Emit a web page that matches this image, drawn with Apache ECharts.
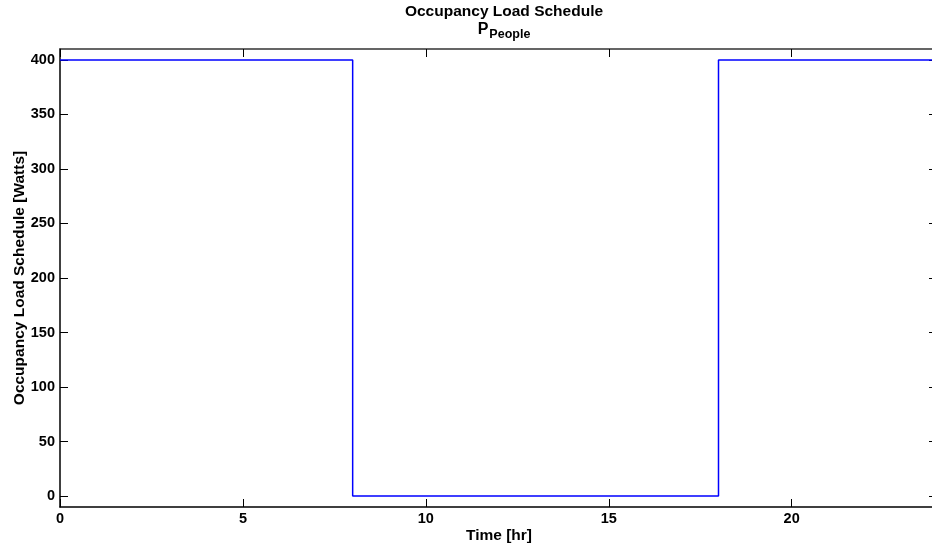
<!DOCTYPE html>
<html><head><meta charset="utf-8">
<script src="https://cdn.jsdelivr.net/npm/echarts@6/dist/echarts.min.js"></script>
<style>html,body{margin:0;padding:0;background:#fff}#c{width:932px;height:550px}</style>
</head><body><div id="c"></div>
<script>
const timeHr = [0, 8, 8, 8, 18, 18, 18, 24];
const loadWatts = [400, 400, 200, 0, 0, 200, 400, 400];
const xTicks = [0, 5, 10, 15, 20];
const yTicks = [0, 50, 100, 150, 200, 250, 300, 350, 400];

const font = 'Liberation Sans, Arial, sans-serif';
const chart = echarts.init(document.getElementById('c'), null, {renderer: 'canvas'});
const tickStyle = {show: true, inside: true, length: 8, lineStyle: {color: '#000', width: 1}};
chart.setOption({
  animation: false,
  title: {
    text: 'Occupancy Load Schedule\n{p|P}{s|People}',
    left: 499, textAlign: 'center', top: -2,
    textStyle: {fontFamily: font, fontWeight: 'bold', fontSize: 15.5, color: '#000', lineHeight: 18,
      rich: {p: {fontFamily: font, fontWeight: 'bold', fontSize: 16, color: '#000', lineHeight: 18},
             s: {fontFamily: font, fontWeight: 'bold', fontSize: 12.5, color: '#000', padding: [10, 0, 0, 1], lineHeight: 18}}}
  },
  grid: {left: 60, right: -6, top: 49, bottom: 43, containLabel: false, outerBoundsMode: 'none'},
  xAxis: [{
    type: 'value', min: 0, max: 24, interval: 5,
    name: 'Time [hr]', nameLocation: 'middle', nameGap: 21, nameMoveOverlap: false,
    nameTextStyle: {fontFamily: font, fontWeight: 'bold', fontSize: 15.5, color: '#000'},
    axisLine: {show: true, onZero: false, lineStyle: {color: '#000', width: 1.5}},
    axisTick: tickStyle,
    axisLabel: {fontFamily: font, fontWeight: 'bold', fontSize: 14.5, color: '#000', margin: 4,
      formatter: v => xTicks.includes(v) ? String(v) : ''},
    splitLine: {show: false}
  }, {
    type: 'value', min: 0, max: 24, interval: 5, position: 'top',
    axisLine: {show: true, onZero: false, lineStyle: {color: '#333', width: 1.5}},
    axisTick: tickStyle, axisLabel: {show: false}, splitLine: {show: false}
  }],
  yAxis: [{
    type: 'value', min: -10, max: 410,
    name: 'Occupancy Load Schedule [Watts]', nameLocation: 'middle', nameGap: 32, nameMoveOverlap: false,
    nameTextStyle: {fontFamily: font, fontWeight: 'bold', fontSize: 15.5, color: '#000'},
    axisLine: {show: true, onZero: false, lineStyle: {color: '#000', width: 1.5}},
    axisTick: {show: true, inside: true, length: 8, lineStyle: {color: '#000'}, customValues: yTicks},
    axisLabel: {fontFamily: font, fontWeight: 'bold', fontSize: 14.5, color: '#000', margin: 5, customValues: yTicks},
    splitLine: {show: false}
  }, {
    type: 'value', min: -10, max: 410, position: 'right',
    axisLine: {show: true, onZero: false, lineStyle: {color: '#000', width: 1.5}},
    axisTick: {show: true, inside: true, length: 9, lineStyle: {color: '#000'}, customValues: yTicks},
    axisLabel: {show: false}, splitLine: {show: false}
  }],
  series: [{
    type: 'line', xAxisIndex: 0, yAxisIndex: 0,
    data: timeHr.map((t, i) => [t, loadWatts[i]]),
    showSymbol: false, symbol: 'none',
    lineStyle: {color: '#0000ff', width: 1.5}
  }]
});
</script></body></html>
